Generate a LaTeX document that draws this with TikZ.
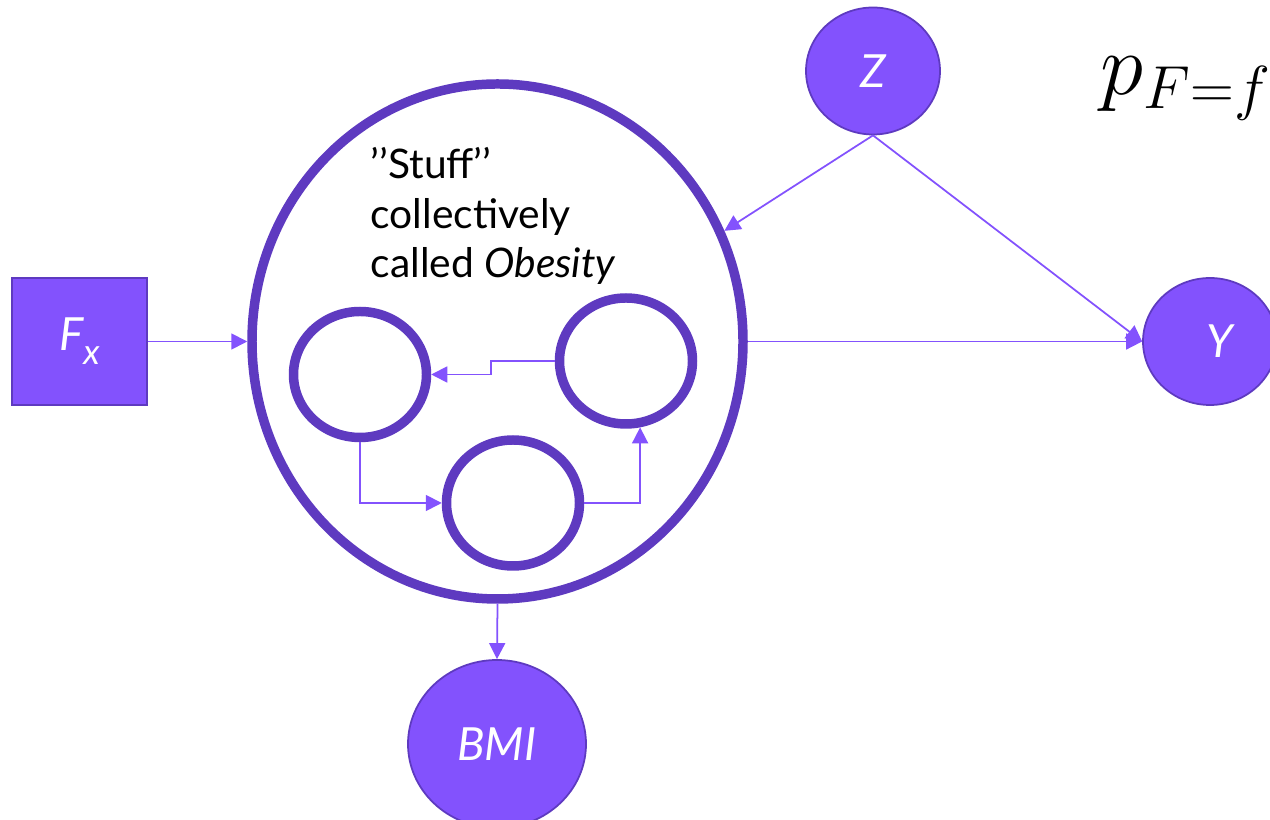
\documentclass[tikz,border=0pt]{standalone}
\usepackage[no-math]{fontspec}
\setmainfont{Lato}
\usepackage{xcolor}
\usetikzlibrary{arrows.meta,shapes.geometric}

\definecolor{nodefill}{RGB}{131,82,253}
\definecolor{nodeline}{RGB}{94,58,192}

\begin{document}
\begin{tikzpicture}[
        var/.style={ellipse, fill=nodefill, draw=nodeline, line width=0.5pt,
            text=white, font=\fontsize{13}{15}\selectfont\itshape,
            minimum width=1.34cm, minimum height=1.27cm, inner sep=0pt},
        ring/.style={ellipse, draw=nodeline, line width=2.7pt,
            minimum width=1.33cm, minimum height=1.26cm, inner sep=0pt},
        conn/.style={draw=nodefill, line width=0.5pt,
            -{Triangle[length=0.16cm,width=0.16cm]}}
    ]
        \useasboundingbox (0,0) rectangle (12.7,8.2);

        % The square on the left
        \node[rectangle, fill=nodefill, draw=nodeline, line width=0.5pt,
            text=white, font=\fontsize{13}{15}\selectfont\itshape,
            minimum width=1.35cm, minimum height=1.27cm] (fx) at (0.795,4.785)
            {F\raisebox{-0.6ex}{\fontsize{10}{12}\selectfont x}};

        % The big circle
        \node[ellipse, draw=nodeline, line width=2.7pt,
            minimum width=4.91cm, minimum height=5.15cm] (obesity) at (4.975,4.785) {};
        \node[anchor=base west, align=left, inner sep=0pt,
            font=\fontsize{11.6}{14.2}\selectfont] (stuff) at (3.70,5.42)
            {’’Stuff’’\\collectively\\called \textit{Obesity}};

        % The circles inside
        \node[ring] (cl) at (3.60,4.455) {};
        \node[ring] (cr) at (6.26,4.59) {};
        \node[ring] (cb) at (5.13,3.17) {};

        % The other circles
        \node[var] (z) at (8.73,7.49) {Z};
        \node[var] (y) at (12.10,4.785) {\hspace{0.2cm}Y};
        \node[var, minimum width=1.78cm, minimum height=1.68cm] (bmi) at (4.97,0.76) {BMI};

        % The formula
        \node[anchor=base west, inner sep=0pt] (pff) at (11.00,7.25)
            {\fontsize{24}{28}\selectfont $p_{F=f}$};

        % The edges
        \draw[conn] (fx) -- (obesity);
        \draw[conn] (obesity) -- (y);
        \draw[conn] (z.south) -- (obesity.26);
        \draw[conn] (z.south) -- (y.west);
        \draw[conn] (obesity.south) -- (bmi.north);

        % The edges inside
        \draw[conn] (cr.west) -- ++(-0.64,0) |- (cl.east);
        \draw[conn] (cl.south) |- (cb.west);
        \draw[conn] (cb.east) -| (cr.-78);

    \end{tikzpicture}
\end{document}
